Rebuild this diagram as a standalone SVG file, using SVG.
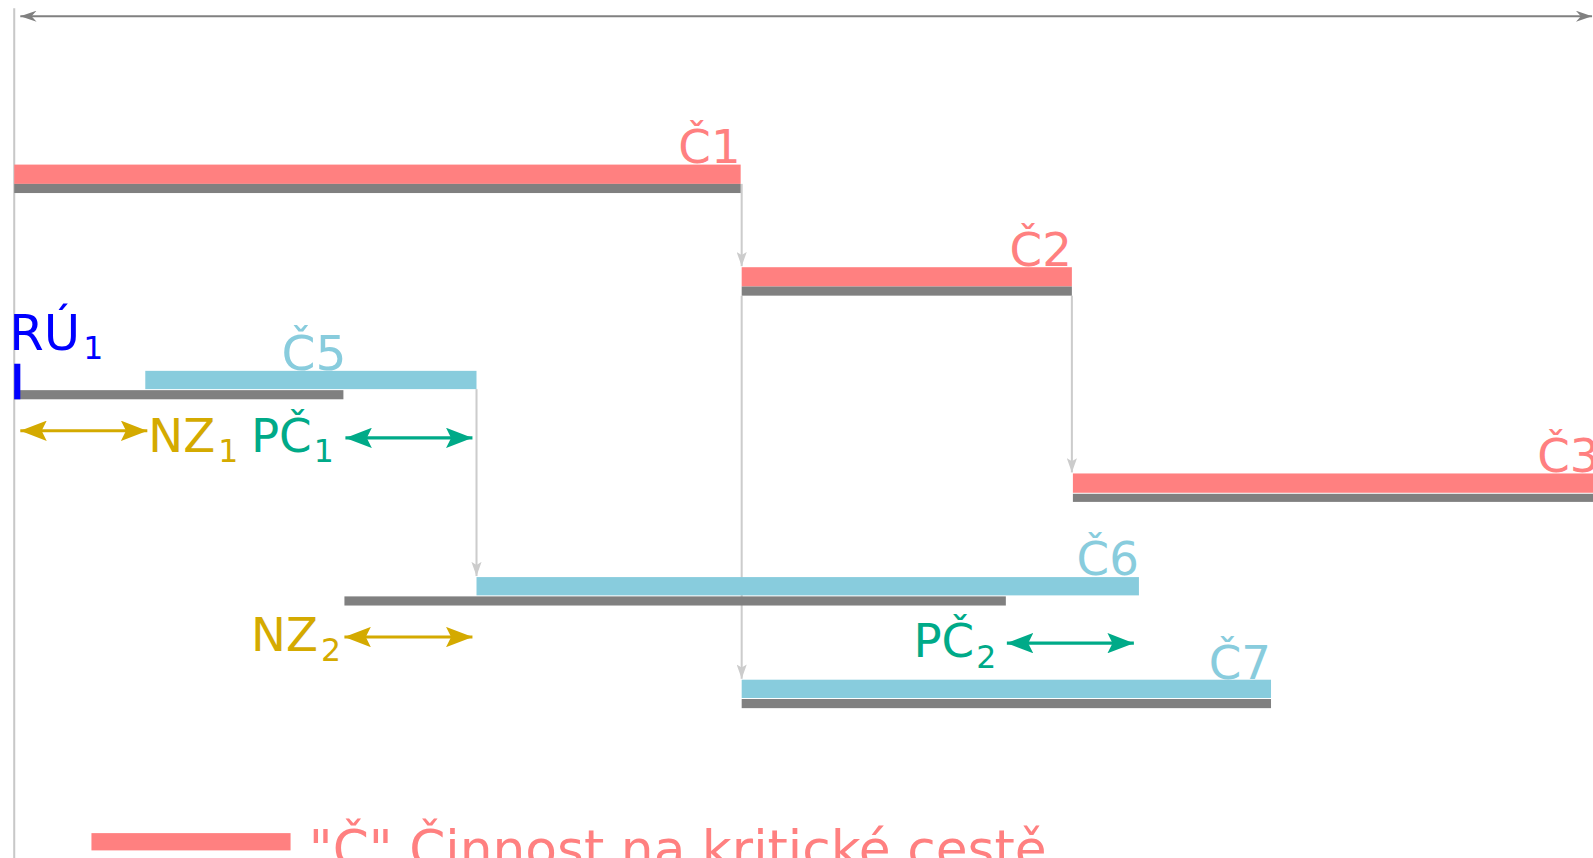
<svg xmlns="http://www.w3.org/2000/svg" width="1593" height="858" viewBox="0 0 1593 858">
<style>
text{font-family:"DejaVu Sans","Noto Sans",sans-serif;font-size:46px}
.crit{fill:#ff8080}.non{fill:#88ccdd}.dur{fill:#808080}
.tr{fill:#ff8080;text-anchor:end}.tc{fill:#88ccdd;text-anchor:end}
.conn{stroke:#cccccc;stroke-width:2;fill:none}
.gold{fill:#d4aa00}.green{fill:#00aa88}
.sub{font-size:31px}
.leg{font-size:51px}
</style>
<defs>
<marker id="ag" viewBox="0 0 14 10" refX="14" refY="5" markerWidth="14" markerHeight="10" markerUnits="userSpaceOnUse" orient="auto"><path d="M0,0 L14,5 L0,10 L3,5 Z" fill="#cccccc"/></marker>
<marker id="at" viewBox="0 0 16 11" refX="16" refY="5.5" markerWidth="16" markerHeight="11" markerUnits="userSpaceOnUse" orient="auto-start-reverse"><path d="M0,0 L16,5.5 L0,11 L5,5.5 Z" fill="#808080"/></marker>
<marker id="agold" viewBox="0 0 26 20" refX="26" refY="10" markerWidth="26" markerHeight="20" markerUnits="userSpaceOnUse" orient="auto-start-reverse"><path d="M0,0 L26,10 L0,20 L5,10 Z" fill="#d4aa00"/></marker>
<marker id="agreen" viewBox="0 0 26 20" refX="26" refY="10" markerWidth="26" markerHeight="20" markerUnits="userSpaceOnUse" orient="auto-start-reverse"><path d="M0,0 L26,10 L0,20 L5,10 Z" fill="#00aa88"/></marker>
</defs>
<rect width="1593" height="858" fill="#ffffff"/>
<g transform="scale(1.016)">
<g id="axes">
<line x1="14" y1="8" x2="14" y2="850" stroke="#c8c8c8" stroke-width="2"/>
<line x1="20" y1="16" x2="1567" y2="16" stroke="#808080" stroke-width="2" marker-start="url(#at)" marker-end="url(#at)"/>
</g>
<g id="connectors">
<line class="conn" x1="730" y1="181" x2="730" y2="262" marker-end="url(#ag)"/>
<line class="conn" x1="730" y1="291" x2="730" y2="668" marker-end="url(#ag)"/>
<line class="conn" x1="1055" y1="291" x2="1055" y2="465" marker-end="url(#ag)"/>
<line class="conn" x1="469" y1="383" x2="469" y2="567" marker-end="url(#ag)"/>
</g>
<g id="C1">
<rect class="crit" x="14" y="162" width="715" height="19"/>
<rect class="dur" x="14" y="181" width="715" height="9"/>
<text class="tr" x="729" y="160">Č1</text>
</g>
<g id="C2">
<rect class="crit" x="730" y="263" width="325" height="19"/>
<rect class="dur" x="730" y="282" width="325" height="9"/>
<text class="tr" x="1055" y="262">Č2</text>
</g>
<g id="C3">
<rect class="crit" x="1056" y="466" width="537" height="19"/>
<rect class="dur" x="1056" y="486" width="537" height="8"/>
<text class="crit" x="1513" y="465">Č3</text>
</g>
<g id="C5">
<rect class="non" x="143" y="365" width="326" height="18"/>
<rect class="dur" x="14" y="384" width="324" height="9"/>
<text class="tc" x="341" y="364" style="font-size:48px">Č5</text>
</g>
<g id="RU1">
<rect x="14" y="358" width="6" height="35" fill="#0000ff"/>
<text x="9" y="344" fill="#0000ff" style="font-size:49px">RÚ<tspan class="sub" dx="3" dy="9">1</tspan></text>
</g>
<g id="NZ1">
<line x1="20" y1="424" x2="145" y2="424" stroke="#d4aa00" stroke-width="3" marker-start="url(#agold)" marker-end="url(#agold)"/>
<text class="gold" x="146" y="445">NZ<tspan class="sub" dx="3" dy="10">1</tspan></text>
</g>
<g id="PC1">
<line x1="340" y1="431" x2="465" y2="431" stroke="#00aa88" stroke-width="3" marker-start="url(#agreen)" marker-end="url(#agreen)"/>
<text class="green" x="247" y="445">PČ<tspan class="sub" dx="2" dy="10">1</tspan></text>
</g>
<g id="C6">
<rect class="non" x="469" y="568" width="652" height="18"/>
<rect class="dur" x="339" y="587" width="651" height="9"/>
<text class="tc" x="1121" y="566">Č6</text>
</g>
<g id="NZ2">
<line x1="339" y1="627" x2="465" y2="627" stroke="#d4aa00" stroke-width="3" marker-start="url(#agold)" marker-end="url(#agold)"/>
<text class="gold" x="247" y="641">NZ<tspan class="sub" dx="3" dy="10">2</tspan></text>
</g>
<g id="PC2">
<line x1="991" y1="633" x2="1116" y2="633" stroke="#00aa88" stroke-width="3" marker-start="url(#agreen)" marker-end="url(#agreen)"/>
<text class="green" x="899" y="647">PČ<tspan class="sub" dx="2" dy="10">2</tspan></text>
</g>
<g id="C7">
<rect class="non" x="730" y="669" width="521" height="18"/>
<rect class="dur" x="730" y="688" width="521" height="9"/>
<text class="tc" x="1251" y="668">Č7</text>
</g>
<g id="legend">
<rect class="crit" x="90" y="820" width="196" height="17"/>
<text class="crit leg" x="304" y="853">"Č" Činnost na kritické cestě</text>
</g>
</g>
</svg>
